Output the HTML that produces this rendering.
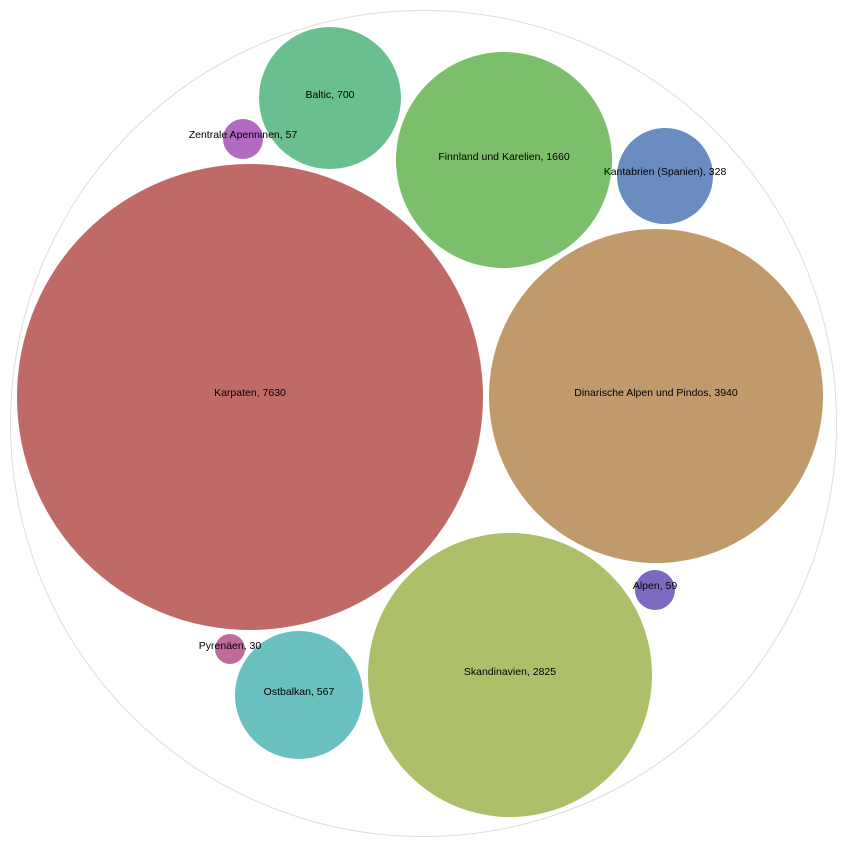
<!DOCTYPE html>
<html><head><meta charset="utf-8"><style>
html,body{margin:0;padding:0;background:#fff;width:847px;height:847px;overflow:hidden}
text{font-family:"Liberation Sans",Arial,sans-serif;font-size:10.5px;fill:#000;text-anchor:middle;dominant-baseline:central}
</style></head><body>
<svg width="847" height="847" viewBox="0 0 847 847">
<circle cx="423.5" cy="423.5" r="413" fill="#fff" stroke="#ddd" stroke-width="1"/>
<circle cx="250" cy="397" r="233" fill="#c06a68"/>
<circle cx="656" cy="396" r="167" fill="#c09a6a"/>
<circle cx="510" cy="675" r="142" fill="#aebf6a"/>
<circle cx="504" cy="160" r="108" fill="#7bbf6a"/>
<circle cx="330" cy="98" r="71" fill="#6abf8f"/>
<circle cx="299" cy="695" r="64" fill="#6abfbf"/>
<circle cx="665" cy="176" r="48" fill="#6a8cc0"/>
<circle cx="243" cy="139" r="20" fill="#b06ac0"/>
<circle cx="655" cy="590" r="20" fill="#7b6ac0"/>
<circle cx="230" cy="649" r="15" fill="#c06a9a"/>
<text x="250" y="393">Karpaten, 7630</text>
<text x="656" y="393">Dinarische Alpen und Pindos, 3940</text>
<text x="510" y="672">Skandinavien, 2825</text>
<text x="504" y="157">Finnland und Karelien, 1660</text>
<text x="330" y="95">Baltic, 700</text>
<text x="299" y="692">Ostbalkan, 567</text>
<text x="665" y="172">Kantabrien (Spanien), 328</text>
<text x="243" y="135">Zentrale Apenninen, 57</text>
<text x="655" y="586">Alpen, 59</text>
<text x="230" y="646">Pyrenäen, 30</text>
</svg>
</body></html>
